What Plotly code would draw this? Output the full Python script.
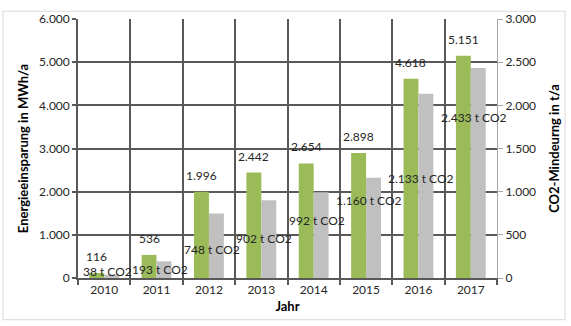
import plotly.graph_objects as go

years = ["2010", "2011", "2012", "2013", "2014", "2015", "2016", "2017"]
energy_mwh = [116, 536, 1996, 2442, 2654, 2898, 4618, 5151]
co2_t = [38, 193, 748, 902, 992, 1160, 2133, 2433]

left_ticks = [0, 1000, 2000, 3000, 4000, 5000, 6000]
right_ticks = [0, 500, 1000, 1500, 2000, 2500, 3000]

# label anchor heights (right-axis units), as placed in the original chart
co2_label_height = [75, 101, 326, 461, 663, 899, 1157, 1854]


def de(n):
    return f"{n:,}".replace(",", ".")


GREEN = "#9BBB59"
GRAY = "#C0C0C0"
GRID = "#595959"
FONT = "Lato"
TXT = "#262626"
BARGAP = 0.43
BAR_W = (1 - BARGAP) / 2

fig = go.Figure()
fig.add_trace(go.Bar(
    x=years, y=energy_mwh, marker=dict(color=GREEN, line=dict(width=0)),
    offsetgroup="a", yaxis="y",
))
fig.add_trace(go.Bar(
    x=years, y=co2_t, marker=dict(color=GRAY, line=dict(width=0)),
    offsetgroup="b", yaxis="y2",
))

for i, v in enumerate(energy_mwh):
    fig.add_annotation(x=i - BAR_W / 2, y=v, xref="x", yref="y", text=de(v),
                       showarrow=False, yanchor="bottom", yshift=8,
                       borderpad=0,
                       font=dict(size=12, color=TXT, family=FONT))

for i, (v, h) in enumerate(zip(co2_t, co2_label_height)):
    fig.add_annotation(x=i, y=h, xref="x", yref="y2", text=f"{de(v)} t CO2",
                       showarrow=False, xshift=3, borderpad=0,
                       font=dict(size=12, color=TXT, family=FONT))

fig.add_shape(type="rect", xref="paper", yref="paper",
              x0=-75/419, x1=(565-78)/419, y0=-(321-278)/267, y1=(278-3)/267,
              line=dict(color="#D9D9D9", width=1), layer="below")

fig.update_layout(
    width=571, height=326,
    margin=dict(l=78, r=74, t=11, b=48),
    plot_bgcolor="white", paper_bgcolor="white",
    separators=",.",
    showlegend=False,
    barmode="group", bargap=BARGAP, bargroupgap=0,
    font=dict(family=FONT, size=12, color=TXT),
    xaxis=dict(
        type="category", tickson="boundaries", showgrid=True,
        range=[-0.5, 7.5], autorange=False,
        gridcolor=GRID, gridwidth=1.6,
        showline=True, linecolor=GRID, linewidth=1.6,
        ticks="outside", ticklen=5, tickcolor=GRID, tickwidth=1.6,
        tickfont=dict(size=12, color=TXT), tickangle=0,
        title=dict(text="<b>Jahr</b>", font=dict(size=13, color="black"), standoff=6),
    ),
    yaxis=dict(
        range=[0, 6000], tickvals=left_ticks, tickformat=",d",
        showgrid=True, gridcolor=GRID, gridwidth=1.6,
        showline=True, linecolor=GRID, linewidth=1.6,
        ticks="outside", ticklen=4, tickcolor=GRID, tickwidth=1.6,
        tickfont=dict(size=12, color=TXT), zeroline=False,
        title=dict(text="<b>Energieeinsparung in MWh/a</b>",
                   font=dict(size=13, color="black"), standoff=8),
    ),
    yaxis2=dict(
        range=[0, 3000], tickvals=right_ticks, tickformat=",d",
        overlaying="y", side="right", showgrid=False,
        showline=True, linecolor="#A6A6A6", linewidth=1,
        ticks="outside", ticklen=5, tickcolor="#A6A6A6",
        tickfont=dict(size=12, color=TXT), zeroline=False,
        title=dict(text="<b>CO2-Mindeurng in t/a</b>",
                   font=dict(size=13, color="black"), standoff=14),
    ),
)

fig.write_html("out.html")
